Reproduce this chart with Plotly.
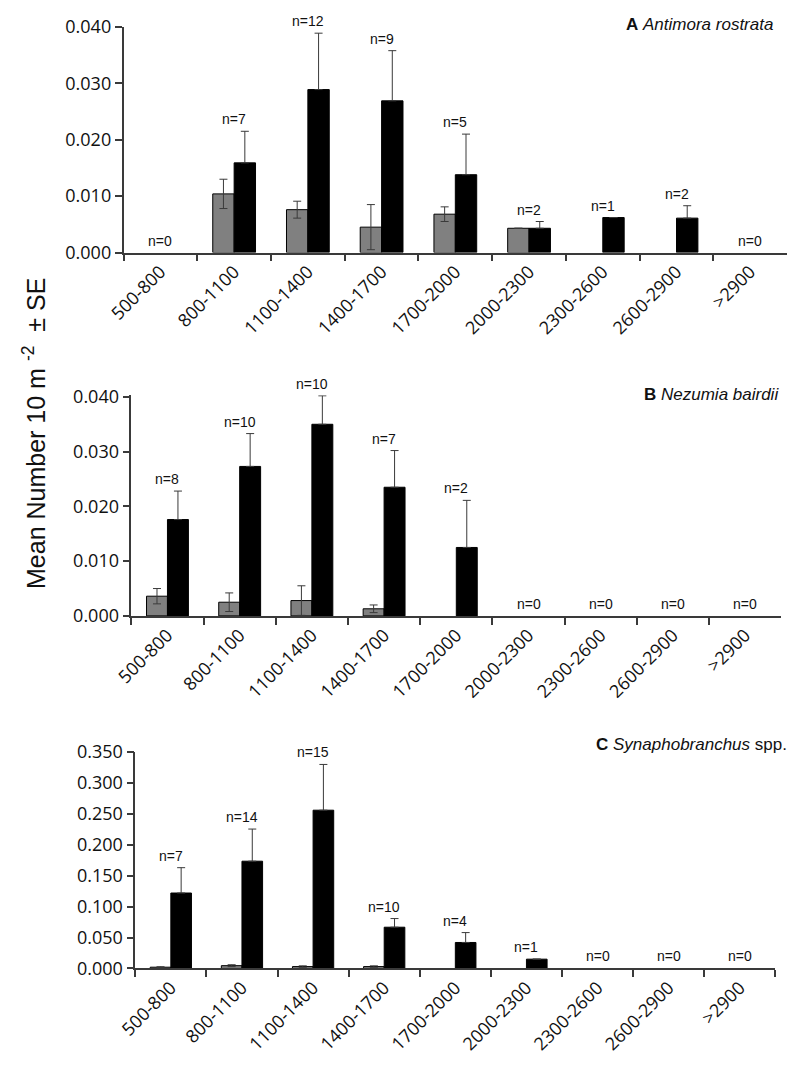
import plotly.graph_objects as go

W, H = 792, 1073

categories = ["500-800", "800-1100", "1100-1400", "1400-1700", "1700-2000",
              "2000-2300", "2300-2600", "2600-2900", ">2900"]

# Panel A  Antimora rostrata
A_grey = [None, 0.0104, 0.0076, 0.0045, 0.0068, 0.0043, None, None, None]
A_grey_se = [None, 0.0026, 0.0015, 0.0040, 0.0013, 0.0, None, None, None]
A_black = [None, 0.0159, 0.0289, 0.0269, 0.0138, 0.0043, 0.0062, 0.0061, None]
A_black_se = [None, 0.0056, 0.0100, 0.0089, 0.0072, 0.0012, 0.0, 0.0022, None]
A_n = [0, 7, 12, 9, 5, 2, 1, 2, 0]

# Panel B  Nezumia bairdii
B_grey = [0.0036, 0.0025, 0.0028, 0.0013, None, None, None, None, None]
B_grey_se = [0.0014, 0.0017, 0.0027, 0.0007, None, None, None, None, None]
B_black = [0.0176, 0.0273, 0.0350, 0.0235, 0.0125, None, None, None, None]
B_black_se = [0.0052, 0.0060, 0.0052, 0.0067, 0.0086, None, None, None, None]
B_n = [8, 10, 10, 7, 2, 0, 0, 0, 0]

# Panel C  Synaphobranchus spp.
C_grey = [0.0020, 0.0045, 0.0030, 0.0030, None, None, None, None, None]
C_grey_se = [0.0008, 0.0015, 0.0012, 0.0012, None, None, None, None, None]
C_black = [0.122, 0.1735, 0.256, 0.0667, 0.042, 0.015, None, None, None]
C_black_se = [0.041, 0.052, 0.074, 0.014, 0.016, 0.0, None, None, None]
C_n = [7, 14, 15, 10, 4, 1, 0, 0, 0]

panels = [
    dict(grey=A_grey, gse=A_grey_se, black=A_black, bse=A_black_se, n=A_n,
         px=(108, 787), py=(14.3, 245), yr=[0, 0.04], dt=0.01,
         title="<b>A</b> <i>Antimora rostrata</i>", tx=775, ty=12),
    dict(grey=B_grey, gse=B_grey_se, black=B_black, bse=B_black_se, n=B_n,
         px=(116, 781), py=(391.0, 616.7), yr=[0, 0.0403], dt=0.01,
         title="<b>B</b> <i>Nezumia bairdii</i>", tx=781, ty=390),
    dict(grey=C_grey, gse=C_grey_se, black=C_black, bse=C_black_se, n=C_n,
         px=(120, 775), py=(756, 977.3), yr=[0, 0.35], dt=0.05,
         title="<b>C</b> <i>Synaphobranchus</i> spp.", tx=789, ty=748),
]

AX = "#3a3a3a"
TICKFONT = dict(family="Open Sans", size=18, color="#111")
NFONT = dict(family="Liberation Sans, Arial", size=14, color="#111")

fig = go.Figure()
annotations = []
layout = {}

for i, p in enumerate(panels):
    k = "" if i == 0 else str(i + 1)
    xa, ya = "x" + k, "y" + k
    fig.add_trace(go.Bar(
        x=categories, y=p["grey"], xaxis=xa, yaxis=ya,
        marker=dict(color="#808080", line=dict(color="#000", width=1)),
        error_y=dict(type="data", array=p["gse"], symmetric=True,
                     color=AX, thickness=1, width=4),
        showlegend=False))
    fig.add_trace(go.Bar(
        x=categories, y=p["black"], xaxis=xa, yaxis=ya,
        marker=dict(color="#000", line=dict(color="#000", width=1)),
        error_y=dict(type="data", array=p["bse"],
                     arrayminus=[0 if v is not None else None for v in p["bse"]],
                     symmetric=False, color=AX, thickness=1, width=4),
        showlegend=False))

    layout["xaxis" + k] = dict(
        domain=[p["px"][0] / W, p["px"][1] / W], anchor=ya,
        type="category", categoryorder="array", categoryarray=categories,
        range=[-0.5, 8.5],
        showline=True, linecolor=AX, linewidth=1.5,
        ticks="outside", ticklen=7, tickcolor=AX, tickwidth=1.5,
        tickson="boundaries", tickangle=-45, tickfont=TICKFONT,
        showgrid=False, zeroline=False, fixedrange=True)
    layout["yaxis" + k] = dict(
        domain=[1 - p["py"][1] / H, 1 - p["py"][0] / H], anchor=xa,
        range=p["yr"], dtick=p["dt"], tick0=0, tickformat=".3f",
        showline=True, linecolor=AX, linewidth=1.5,
        ticks="outside", ticklen=7, tickcolor=AX, tickwidth=1.5,
        tickfont=TICKFONT, showgrid=False, zeroline=False, fixedrange=True)

    # n labels
    for j, c in enumerate(categories):
        tops = [0.0]
        for v, s in ((p["grey"][j], p["gse"][j]), (p["black"][j], p["bse"][j])):
            if v is not None:
                tops.append(v + (s or 0))
        annotations.append(dict(
            x=c, y=max(tops), xref=xa, yref=ya, text=f"n={p['n'][j]}",
            showarrow=False, yanchor="bottom", xanchor="center",
            yshift=2, font=NFONT))

    annotations.append(dict(
        x=p["tx"] / W, y=1 - p["ty"] / H, xref="paper", yref="paper",
        text=p["title"], showarrow=False, xanchor="right", yanchor="middle",
        font=dict(family="Liberation Sans, Arial", size=17, color="#111")))

annotations.append(dict(
    x=17 / W, y=1 - 430 / H, xref="paper", yref="paper",
    text="Mean Number 10 m\u00a0<sup>-2</sup>\u00a0\u00a0\u00b1 SE", textangle=-90,
    showarrow=False, xanchor="center", yanchor="middle",
    font=dict(family="Liberation Sans, Arial", size=25, color="#111")))

fig.update_layout(
    width=W, height=H, margin=dict(l=0, r=0, t=0, b=0),
    paper_bgcolor="white", plot_bgcolor="white",
    barmode="group", bargap=0.42, bargroupgap=0,
    annotations=annotations, **layout)

fig.write_html(
    "out.html",
    config={"responsive": False, "displayModeBar": False},
    post_script="document.body.style.margin='0';document.body.style.overflow='hidden';",
)
